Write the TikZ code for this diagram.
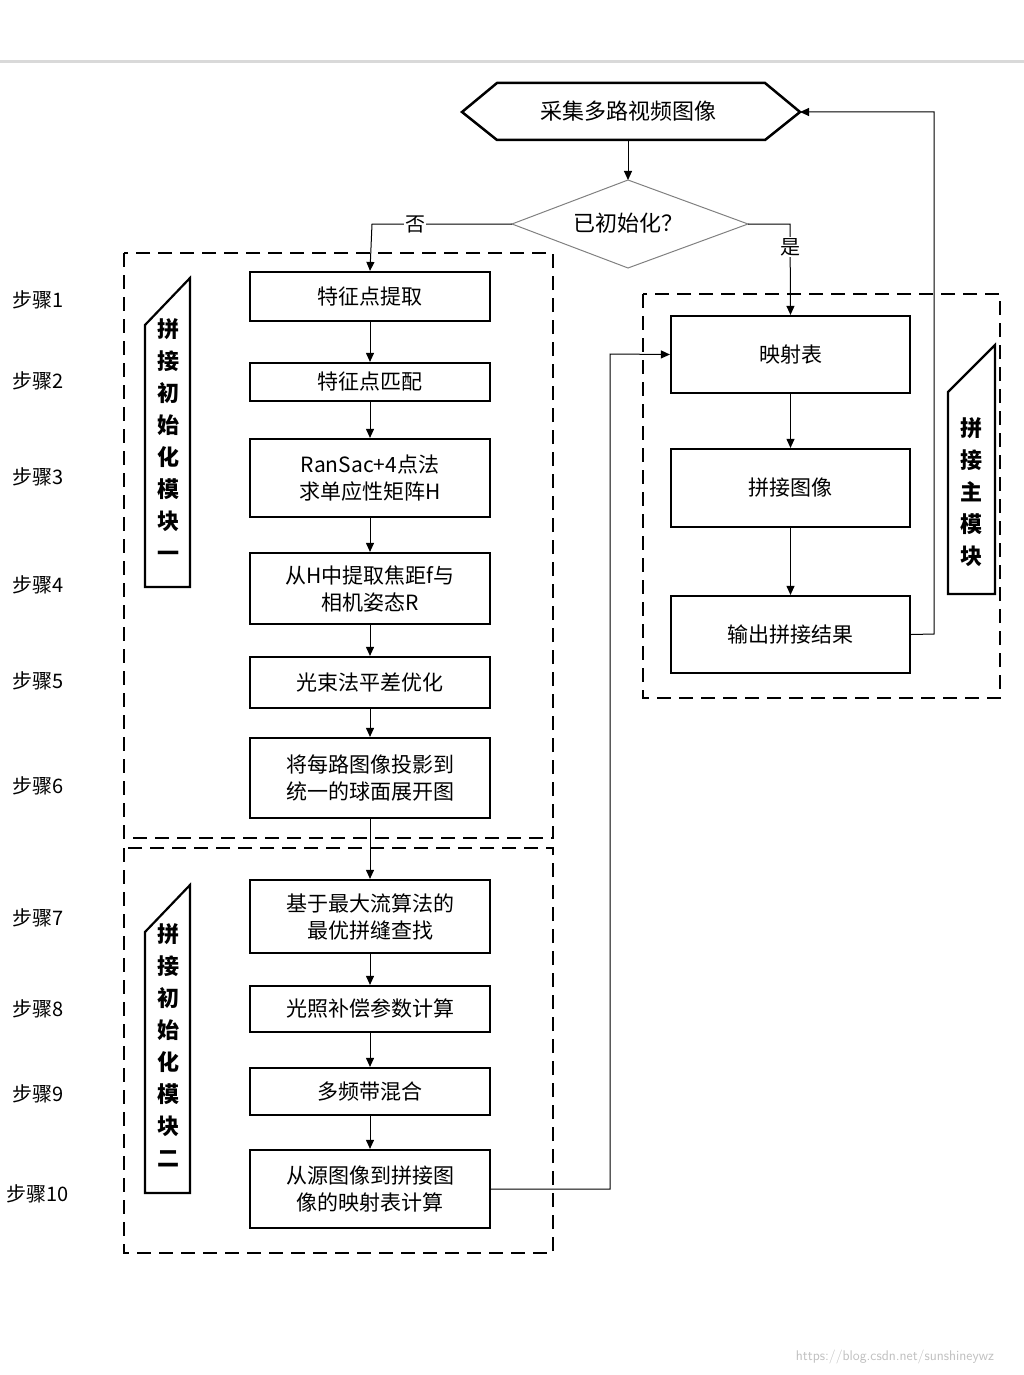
\documentclass[tikz,border=0pt]{standalone}
\usepackage{fontspec}
\setmainfont{Liberation Serif}
\newfontfamily\cjk{Noto Sans CJK SC}
\usetikzlibrary{arrows.meta}
\begin{document}
\begin{tikzpicture}[x=1pt,y=-1pt,
 box/.style={draw,line width=2.2pt,minimum width=240pt,align=center,font=\cjk\fontsize{21}{27}\selectfont,inner sep=0pt},
 arr/.style={-{Triangle[length=9pt,width=8pt]},line width=1pt},
 dbox/.style={draw,line width=2.2pt,dash pattern=on 14pt off 8pt},
 mod/.style={draw,line width=2.2pt},
 steplbl/.style={font=\cjk\fontsize{20}{24}\selectfont,anchor=center},
 vt/.style={font=\cjk\bfseries\fontsize{22}{32}\selectfont,align=center}]
\useasboundingbox (0,0) rectangle (1024,1375);
\draw[gray!30,line width=3pt] (0,62) -- (1024,62);
% hexagon
\draw[line width=2.5pt] (462,112) -- (497,83) -- (765,83) -- (800,112) -- (765,140) -- (497,140) -- cycle;
\node[font=\cjk\fontsize{22}{26}\selectfont] (hex) at (628,111) {采集多路视频图像};
\coordinate (hexR) at (800,112);
\coordinate (hexB) at (628,140);
\draw[gray,line width=1pt] (512,224) -- (628,180) -- (748,224) -- (628,268) -- cycle;
\node[font=\cjk\fontsize{22}{26}\selectfont] (dia) at (628,223) {已初始化？};
\coordinate (diaT) at (628,180);
\coordinate (diaL) at (512,224);
\coordinate (diaR) at (748,224);
% dashed modules
\draw[dbox] (124,253) rectangle (553,838);
\draw[dbox] (124,848) rectangle (553,1253);
\draw[dbox] (643,294) rectangle (1000,698);
\draw[mod] (145,325) -- (190,278) -- (190,587) -- (145,587) -- cycle;
\node[vt] at (168,440) {拼\\接\\初\\始\\化\\模\\块\\一};
\draw[mod] (145,932) -- (190,885) -- (190,1193) -- (145,1193) -- cycle;
\node[vt] at (168,1045) {拼\\接\\初\\始\\化\\模\\块\\二};
\draw[mod] (948,392) -- (995,345) -- (995,594) -- (948,594) -- cycle;
\node[vt] at (971,492) {拼\\接\\主\\模\\块};
% left boxes
\node[box,minimum height=49pt] (b1) at (370,296.5) {特征点提取};
\node[box,minimum height=38pt] (b2) at (370,382) {特征点匹配};
\node[box,minimum height=78pt] (b3) at (370,478) {RanSac+4点法\\求单应性矩阵H};
\node[box,minimum height=71pt] (b4) at (370,588.5) {从H中提取焦距f与\\相机姿态R};
\node[box,minimum height=51pt] (b5) at (370,682.5) {光束法平差优化};
\node[box,minimum height=80pt] (b6) at (370,778) {将每路图像投影到\\统一的球面展开图};
\node[box,minimum height=73pt] (b7) at (370,916.5) {基于最大流算法的\\最优拼缝查找};
\node[box,minimum height=46pt] (b8) at (370,1009) {光照补偿参数计算};
\node[box,minimum height=47pt] (b9) at (370,1091.5) {多频带混合};
\node[box,minimum height=78pt] (b10) at (370,1189) {从源图像到拼接图\\像的映射表计算};
% right boxes
\node[box,minimum width=239pt,minimum height=77pt] (r1) at (790.5,354.5) {映射表};
\node[box,minimum width=239pt,minimum height=78pt] (r2) at (790.5,488) {拼接图像};
\node[box,minimum width=239pt,minimum height=77pt] (r3) at (790.5,634.5) {输出拼接结果};
% steps
\foreach \t/\y in {1/300,2/381,3/477,4/585,5/681,6/786,7/918,8/1009,9/1094}
 \node[steplbl] at (38,\y) {步骤\t};
\node[steplbl] at (38,1194) {步骤10};
% arrows
\draw[arr] (hexB) -- (diaT);
\draw[arr] (diaL) -- (372,224) -- (b1.north);
\node[fill=white,font=\cjk\fontsize{20}{24}\selectfont,inner sep=1pt] at (415,224) {否};
\draw[arr] (diaR) -- (790,224) -- (r1.north);
\node[fill=white,font=\cjk\fontsize{20}{24}\selectfont,inner sep=1pt] at (790,247) {是};
\foreach \a/\b in {b1/b2,b2/b3,b3/b4,b4/b5,b5/b6,b6/b7,b7/b8,b8/b9,b9/b10,r1/r2,r2/r3}
 \draw[arr] (\a.south) -- (\b.north);
\draw[arr] (b10.east) -- (610,1189) -- (610,354) -- (r1.west);
\draw[arr] (r3.east) -- (934,634) -- (934,112) -- (hexR);
\node[gray!50,font=\fontsize{14}{16}\selectfont\sffamily] at (895,1357) {https://blog.csdn.net/sunshineywz};
\end{tikzpicture}
\end{document}
